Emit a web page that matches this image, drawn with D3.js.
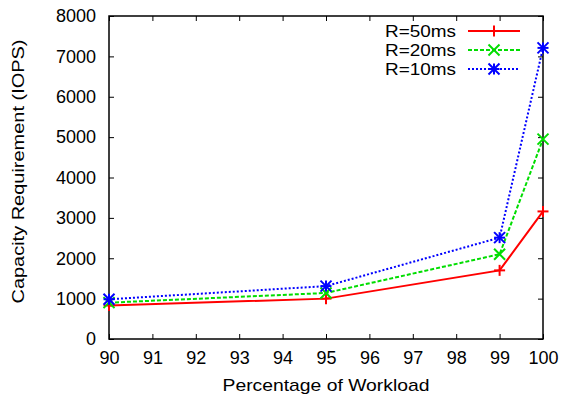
<!DOCTYPE html>
<html>
<head>
<meta charset="utf-8">
<script src="https://cdn.jsdelivr.net/npm/d3@7"></script>
<style>
  body { margin: 0; background: #fff; }
  text { font-family: "Liberation Sans", Arial, sans-serif; fill: #000; }
</style>
</head>
<body>
<div id="chart"></div>
<script>
/* DATA */
const xValues = [90, 95, 99, 100];
const r50 = [830, 1000, 1700, 3160];
const r20 = [900, 1140, 2100, 4950];
const r10 = [985, 1310, 2510, 7210];
const seriesNames = ["R=50ms", "R=20ms", "R=10ms"];
const xTicks = [90, 91, 92, 93, 94, 95, 96, 97, 98, 99, 100];
const yTicks = [0, 1000, 2000, 3000, 4000, 5000, 6000, 7000, 8000];

const config = {
    width: 562,
    height: 400,
    margin: { top: 16, right: 19, bottom: 61, left: 109 }
};

const svg = d3.select("#chart")
    .append("svg")
    .attr("width", config.width)
    .attr("height", config.height);

const x = d3.scaleLinear()
    .domain([90, 100])
    .range([config.margin.left, config.width - config.margin.right]);

const y = d3.scaleLinear()
    .domain([0, 8000])
    .range([config.height - config.margin.bottom, config.margin.top]);

const x0 = x.range()[0], x1 = x.range()[1];
const y0 = y.range()[0], y1 = y.range()[1];

// axes: inward ticks, mirrored on top/right
const tickLen = 5;
svg.append("g")
    .attr("transform", `translate(0,${y0})`)
    .call(d3.axisBottom(x).tickValues(xTicks).tickFormat(d3.format("d"))
        .tickSizeInner(-tickLen).tickSizeOuter(0).tickPadding(12))
    .call(g => g.select(".domain").remove())
    .call(g => g.selectAll("text").style("font-size", "18px"));

svg.append("g")
    .attr("transform", `translate(0,${y1})`)
    .call(d3.axisTop(x).tickValues(xTicks).tickSizeInner(-tickLen).tickSizeOuter(0).tickFormat(""))
    .call(g => g.select(".domain").remove());

svg.append("g")
    .attr("transform", `translate(${x0},0)`)
    .call(d3.axisLeft(y).tickValues(yTicks).tickFormat(d3.format("d"))
        .tickSizeInner(-tickLen).tickSizeOuter(0).tickPadding(13))
    .call(g => g.select(".domain").remove())
    .call(g => g.selectAll("text").style("font-size", "18px"));

svg.append("g")
    .attr("transform", `translate(${x1},0)`)
    .call(d3.axisRight(y).tickValues(yTicks).tickSizeInner(-tickLen).tickSizeOuter(0).tickFormat(""))
    .call(g => g.select(".domain").remove());

svg.selectAll(".tick line").attr("stroke", "#000");

svg.append("rect")
    .attr("x", x0).attr("y", y1)
    .attr("width", x1 - x0).attr("height", y0 - y1)
    .attr("fill", "none").attr("stroke", "#000").attr("stroke-width", 1.5);

// axis titles
svg.append("text")
    .attr("x", (x0 + x1) / 2)
    .attr("y", 391)
    .attr("text-anchor", "middle")
    .attr("textLength", 207)
    .attr("lengthAdjust", "spacingAndGlyphs")
    .style("font-size", "17px")
    .text("Percentage of Workload");

svg.append("text")
    .attr("transform", `translate(24,${(y0 + y1) / 2 - 6}) rotate(-90)`)
    .attr("text-anchor", "middle")
    .attr("textLength", 264)
    .attr("lengthAdjust", "spacingAndGlyphs")
    .style("font-size", "17px")
    .text("Capacity Requirement (IOPS)");

/* SERIES */
const series = [
    { name: seriesNames[0], values: r50, color: "#ff0000", dash: null, marker: "plus" },
    { name: seriesNames[1], values: r20, color: "#00dd00", dash: "4,2", marker: "cross" },
    { name: seriesNames[2], values: r10, color: "#0000ff", dash: "2,2", marker: "star" }
];

function drawMarker(g, type, cx, cy, color) {
    const s = 5.5;
    const segs = [];
    if (type === "plus" || type === "star") {
        segs.push([cx - s, cy, cx + s, cy], [cx, cy - s, cx, cy + s]);
    }
    if (type === "cross" || type === "star") {
        segs.push([cx - s, cy - s, cx + s, cy + s], [cx - s, cy + s, cx + s, cy - s]);
    }
    segs.forEach(p => {
        g.append("line")
            .attr("x1", p[0]).attr("y1", p[1])
            .attr("x2", p[2]).attr("y2", p[3])
            .attr("stroke", color).attr("stroke-width", 2);
    });
}

const line = d3.line().x((d, i) => x(xValues[i])).y(d => y(d));

series.forEach(s => {
    const g = svg.append("g");
    g.append("path")
        .datum(s.values)
        .attr("d", line)
        .attr("fill", "none")
        .attr("stroke", s.color)
        .attr("stroke-width", 2)
        .attr("stroke-dasharray", s.dash);
    s.values.forEach((v, i) => drawMarker(g, s.marker, x(xValues[i]), y(v), s.color));
});

/* LEGEND */
const legend = svg.append("g");
series.forEach((s, i) => {
    const ly = 31 + i * 19;
    legend.append("text")
        .attr("x", 456)
        .attr("y", ly)
        .attr("dy", "0.35em")
        .attr("text-anchor", "end")
        .attr("textLength", 71)
        .attr("lengthAdjust", "spacingAndGlyphs")
        .style("font-size", "17px")
        .text(s.name);
    legend.append("line")
        .attr("x1", 468).attr("x2", 520)
        .attr("y1", ly).attr("y2", ly)
        .attr("stroke", s.color)
        .attr("stroke-width", 2)
        .attr("stroke-dasharray", s.dash);
    drawMarker(legend, s.marker, 494, ly, s.color);
});
</script>
</body>
</html>
